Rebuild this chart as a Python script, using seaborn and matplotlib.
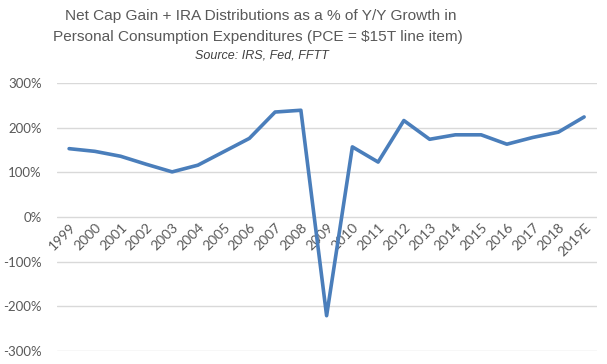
import matplotlib.pyplot as plt
import seaborn as sns
from matplotlib.ticker import FuncFormatter

# Data (percent)
years = ['1999', '2000', '2001', '2002', '2003', '2004', '2005', '2006', '2007', '2008',
         '2009', '2010', '2011', '2012', '2013', '2014', '2015', '2016', '2017', '2018', '2019E']
share_pct = [153, 147, 136, 118, 101, 116, 146, 176, 235, 239,
             -221, 157, 123, 216, 174, 184, 184, 163, 178, 190, 224]
y_ticks = [-300, -200, -100, 0, 100, 200, 300]

sns.set_style('white')
plt.rcParams['font.family'] = ['Liberation Sans', 'DejaVu Sans']

fig = plt.figure(figsize=(6.07, 3.64), dpi=100)
ax = fig.add_axes([57 / 607, 13 / 364, 540 / 607, 268 / 364])

# Draw the line
sns.lineplot(x=years, y=share_pct, ax=ax, color='#4A7EBB', linewidth=2.6, sort=False)

ax.set_ylim(-300, 300)
ax.set_xlim(-0.47, len(years) - 0.5)
ax.set_yticks(y_ticks)
ax.yaxis.set_major_formatter(FuncFormatter(lambda v, p: f'{int(v)}%'))
ax.grid(axis='y', color='#D9D9D9', linewidth=1)
ax.set_axisbelow(True)

# x axis crosses at 0, with no visible spine
for s in ['left', 'right', 'top']:
    ax.spines[s].set_visible(False)
ax.spines['bottom'].set_position(('data', 0))
ax.spines['bottom'].set_color('none')

ax.tick_params(axis='both', length=0, colors='#595959')
ax.tick_params(axis='y', pad=11)
ax.tick_params(axis='x', pad=3)
for lab in ax.get_xticklabels():
    lab.set_rotation(45)
    lab.set_ha('right')
    lab.set_rotation_mode('anchor')
    lab.set_family(['Lato', 'DejaVu Sans'])
    lab.set_fontsize(10)
for lab in ax.get_yticklabels():
    lab.set_family(['Lato', 'DejaVu Sans'])
    lab.set_fontsize(9.5)

ax.set_xlabel('')
ax.set_ylabel('')

# Title block
fig.text(261 / 607, 1 - 16 / 364, 'Net Cap Gain + IRA Distributions as a % of Y/Y Growth in',
         ha='center', va='center', fontsize=11.1, color='#595959')
fig.text(258 / 607, 1 - 37 / 364, 'Personal Consumption Expenditures (PCE = $15T line item)',
         ha='center', va='center', fontsize=11.1, color='#595959')
fig.text(262 / 607, 1 - 55 / 364, 'Source: IRS, Fed, FFTT',
         ha='center', va='center', fontsize=9, style='italic', color='#404040')

fig.savefig('out.png', dpi=100)
